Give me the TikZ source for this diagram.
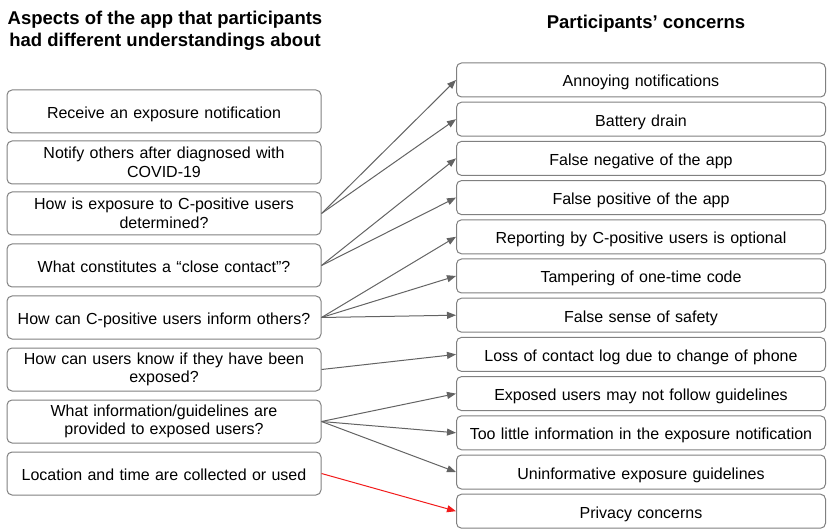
\documentclass[tikz,border=0pt]{standalone}
\usepackage{fontspec}
\setmainfont{Liberation Sans}
\usetikzlibrary{arrows.meta}
\definecolor{boxgray}{HTML}{808080}
\definecolor{arrgray}{HTML}{636363}
\definecolor{arrred}{HTML}{F21B1B}
\begin{document}
\begin{tikzpicture}[x=1pt,y=-1pt,
  lbox/.style={draw=boxgray, line width=1pt, rounded corners=5pt, minimum width=314pt, minimum height=43pt, inner sep=0pt, align=center, text width=308pt, font=\fontsize{16}{18.5}\selectfont},
  rbox/.style={draw=boxgray, line width=1pt, rounded corners=5pt, minimum width=369pt, minimum height=34pt, inner sep=0pt, align=center, text width=364pt, font=\fontsize{16}{18.5}\selectfont},
  oneline/.style={text height=14pt, text depth=0pt},
  conn/.style={draw=arrgray, line width=1pt, -{Triangle[length=9pt,width=7pt]}},
  connred/.style={draw=arrred, line width=1pt, -{Triangle[length=9pt,width=7pt]}},
  ttl/.style={font=\bfseries\fontsize{18.5}{22}\selectfont, align=center}]
\useasboundingbox (0,0) rectangle (827,529);
\node[ttl] (t1) at (165,31) {Aspects of the app that participants\\had different understandings about};
\node[ttl] (t2) at (646,24) {Participants’ concerns};
\node[lbox,oneline] (l1) at (164,111.5) {Receive an exposure notification};
\node[lbox] (l2) at (164,162.5) {Notify others after diagnosed with\\COVID-19};
\node[lbox] (l3) at (164,213.5) {How is exposure to C-positive users\\determined?};
\node[lbox,oneline] (l4) at (164,265.5) {What constitutes a “close contact”?};
\node[lbox,oneline] (l5) at (164,317.5) {How can C-positive users inform others?};
\node[lbox] (l6) at (164,369.5) {How can users know if they have been\\exposed?};
\node[lbox] (l7) at (164,421.5) {What information/guidelines are\\provided to exposed users?};
\node[lbox,oneline] (l8) at (164,473.5) {Location and time are collected or used};
\node[rbox,oneline] (r1) at (641,80) {Annoying notifications};
\node[rbox,oneline] (r2) at (641,119.2) {Battery drain};
\node[rbox,oneline] (r3) at (641,158.4) {False negative of the app};
\node[rbox,oneline] (r4) at (641,197.6) {False positive of the app};
\node[rbox,oneline] (r5) at (641,236.8) {Reporting by C-positive users is optional};
\node[rbox,oneline] (r6) at (641,276) {Tampering of one-time code};
\node[rbox,oneline] (r7) at (641,315.2) {False sense of safety};
\node[rbox,oneline] (r8) at (641,354.4) {Loss of contact log due to change of phone};
\node[rbox,oneline] (r9) at (641,393.6) {Exposed users may not follow guidelines};
\node[rbox,oneline] (r10) at (641,432.8) {Too little information in the exposure notification};
\node[rbox,oneline] (r11) at (641,472) {Uninformative exposure guidelines};
\node[rbox,oneline] (r12) at (641,511.2) {Privacy concerns};
\draw[conn] (l3.east) -- (r1.west);
\draw[conn] (l3.east) -- (r2.west);
\draw[conn] (l4.east) -- (r3.west);
\draw[conn] (l4.east) -- (r4.west);
\draw[conn] (l5.east) -- (r5.west);
\draw[conn] (l5.east) -- (r6.west);
\draw[conn] (l5.east) -- (r7.west);
\draw[conn] (l6.east) -- (r8.west);
\draw[conn] (l7.east) -- (r9.west);
\draw[conn] (l7.east) -- (r10.west);
\draw[conn] (l7.east) -- (r11.west);
\draw[connred] (l8.east) -- (r12.west);
\end{tikzpicture}
\end{document}
